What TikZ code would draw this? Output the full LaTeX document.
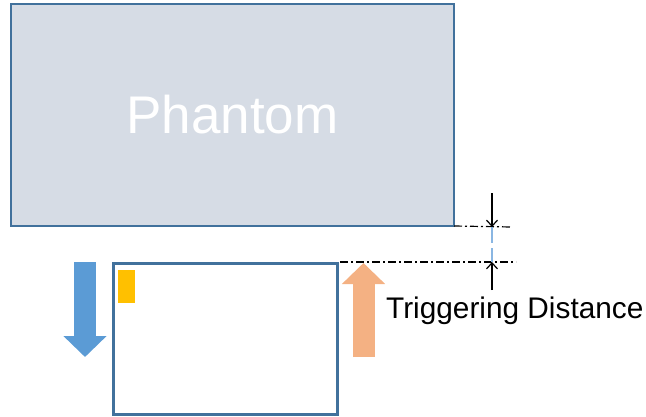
\documentclass[tikz,border=0pt]{standalone}
\usepackage{fontspec}
\setmainfont{Liberation Sans}
\usetikzlibrary{arrows.meta}
\definecolor{phantomfill}{HTML}{D6DCE5}
\definecolor{frameblue}{HTML}{41719C}
\definecolor{moveblue}{HTML}{5B9BD5}
\definecolor{moveorange}{HTML}{F4B183}
\definecolor{markyellow}{HTML}{FFC000}
\definecolor{gapblue}{HTML}{8AB6E2}
\begin{document}
\begin{tikzpicture}
  [x=1pt,y=-1pt,
   phantom/.style={rectangle,draw=frameblue,fill=phantomfill,line width=2pt,
                   outer sep=0,inner sep=0,minimum width=443pt,minimum height=222pt,
                   text=white,font=\fontsize{53}{57}\selectfont},
   detector/.style={rectangle,draw=frameblue,fill=white,line width=3pt,
                    outer sep=0,inner sep=0,minimum width=224pt,minimum height=151pt},
   marker/.style={rectangle,fill=markyellow,outer sep=0,inner sep=0,
                  minimum width=17pt,minimum height=33pt},
   move/.style={line width=22pt,-{Triangle[length=21pt,width=42pt]}},
   guide/.style={line width=1.2pt,dash pattern=on 8pt off 3pt on 2pt off 3pt},
   dimarrow/.style={line width=1.2pt,-{Straight Barb[length=6pt,width=11pt]}}]
  \useasboundingbox (0,0) rectangle (646,416);
  \node[phantom] (phantom) at (232.5,115) {Phantom};
  \node[detector] (detector) at (225,338.5) {};
  \node[marker] (marker) at (126.5,286.5) {};
  % motion arrows
  \coordinate (downtop) at (85,262);
  \coordinate (downtip) at (85,357);
  \draw[move,moveblue] (downtop) -- (downtip);
  \coordinate (upbase) at (363.5,357);
  \coordinate (uptip) at (363.5,263);
  \draw[move,moveorange] (upbase) -- (uptip);
  % triggering distance
  \coordinate (upperend) at (512,227);
  \coordinate (lowerstart) at (340,262);
  \coordinate (lowerend) at (516,262);
  \draw[guide] (phantom.south east) -- (upperend);
  \draw[guide] (lowerstart) -- (lowerend);
  \coordinate (dimtop) at (492,193);
  \coordinate (dimupper) at (492,227);
  \coordinate (dimlower) at (492,262);
  \coordinate (dimbottom) at (492,290);
  \draw[gapblue,line width=1.2pt,dash pattern=on 16pt off 5pt] (dimupper) -- (dimlower);
  \draw[dimarrow] (dimtop) -- (dimupper);
  \draw[dimarrow] (dimbottom) -- (dimlower);
  \node[anchor=base west,font=\fontsize{29.8}{33}\selectfont,inner sep=0] (label) at (386,318) {Triggering Distance};
\end{tikzpicture}
\end{document}
